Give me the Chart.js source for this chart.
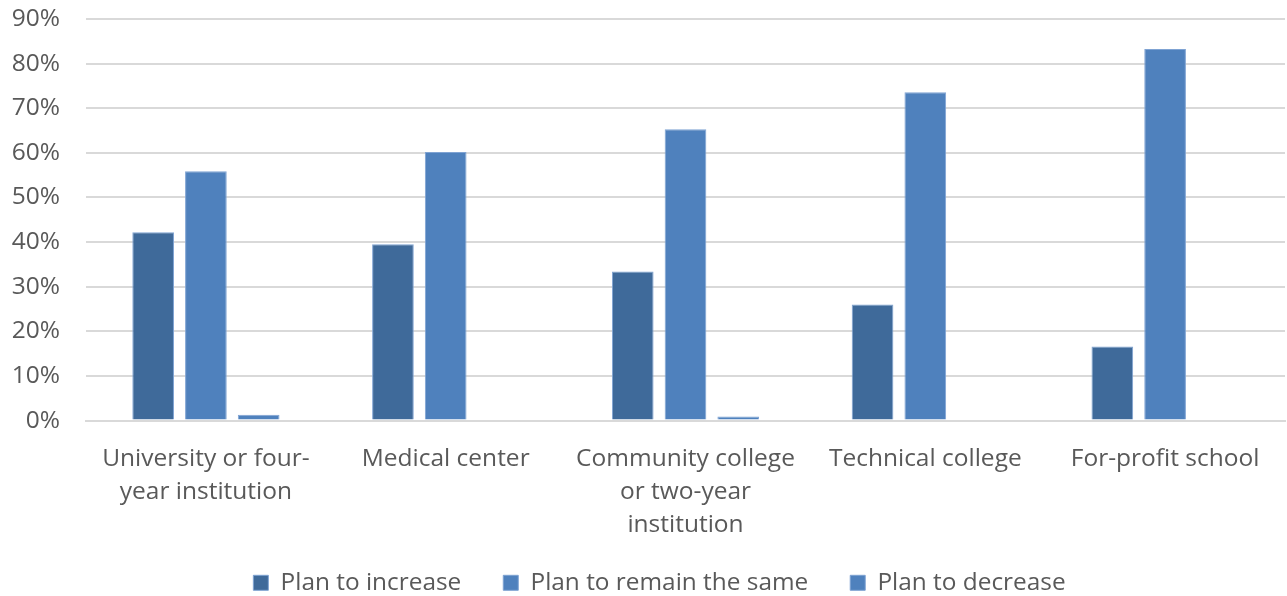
<!DOCTYPE html>
<html>
<head>
<meta charset="utf-8">
<script src="https://cdn.jsdelivr.net/npm/chart.js@4/dist/chart.umd.min.js"></script>
<style>
  html, body { margin: 0; padding: 0; background: #fff; }
  #wrap { width: 1287px; height: 596px; }
</style>
</head>
<body>
<div id="wrap"><canvas id="graph"></canvas></div>
<script>
// categories (wrapped the way the original shows them)
const categories = [
  ['University or four-', 'year institution'],
  'Medical center',
  ['Community college', 'or two-year', 'institution'],
  'Technical college',
  'For-profit school'
];

const planIncrease = [42.2, 39.5, 33.4, 26.0, 16.6];
const planSame     = [55.9, 60.2, 65.3, 73.6, 83.3];
const planDecrease = [1.3, 0, 0.9, 0, 0];

const seriesNames = ['Plan to increase', 'Plan to remain the same', 'Plan to decrease'];

const yTicks = [0, 10, 20, 30, 40, 50, 60, 70, 80, 90];

const fontFam = '"Open Sans", "Noto Sans", sans-serif';
const grey = '#595959';

function ds(label, data, color) {
  return {
    label: label,
    data: data,
    backgroundColor: color,
    borderColor: '#7FA3D3',
    borderWidth: 1,
    categoryPercentage: 0.66,
    barPercentage: 0.79
  };
}

// axes were squeezed in afterFit, so widen their label clip boxes again
const unclipAxes = {
  id: 'unclipAxes',
  afterLayout(chart) {
    chart.scales.x.bottom = chart.height;
    chart.scales.y.left = 0;
  }
};

const ctx = document.querySelector('#graph').getContext('2d');
const myChart = new Chart(ctx, {
  type: 'bar',
  data: {
    labels: categories,
    datasets: [
      ds(seriesNames[0], planIncrease, '#3F6A9A'),
      ds(seriesNames[1], planSame, '#4F81BD'),
      ds(seriesNames[2], planDecrease, '#4F81BD')
    ]
  },
  plugins: [unclipAxes],
  options: {
    responsive: true,
    maintainAspectRatio: false,
    animation: false,
    // left padding nudges the legend to the right, y axis width makes up for it
    layout: { padding: { top: 0, right: 2, left: 34, bottom: -9 } },
    plugins: {
      legend: {
        position: 'bottom',
        labels: {
          color: grey,
          font: { family: fontFam, size: 24.4 },
          boxWidth: 15,
          boxHeight: 15,
          padding: 42
        }
      },
      tooltip: { enabled: false }
    },
    scales: {
      x: {
        grid: { display: false },
        border: { color: '#D9D9D9', width: 2 },
        afterFit: (axis) => { axis.height -= 27; },
        ticks: {
          color: grey,
          font: { family: fontFam, size: 24.5, lineHeight: 1.347 },
          maxRotation: 0,
          padding: 14
        }
      },
      y: {
        min: 0,
        max: 90,
        afterBuildTicks: (axis) => { axis.ticks = yTicks.map(v => ({ value: v })); },
        afterFit: (axis) => {
          axis.width = 52;
          axis.paddingTop = 19;
          axis.paddingBottom = 0;
        },
        grid: { color: '#D9D9D9', lineWidth: 2, drawTicks: false },
        border: { display: false },
        ticks: {
          color: grey,
          font: { family: fontFam, size: 24.5 },
          padding: 26,
          callback: (v) => v + '%'
        }
      }
    }
  }
});
</script>
</body>
</html>
